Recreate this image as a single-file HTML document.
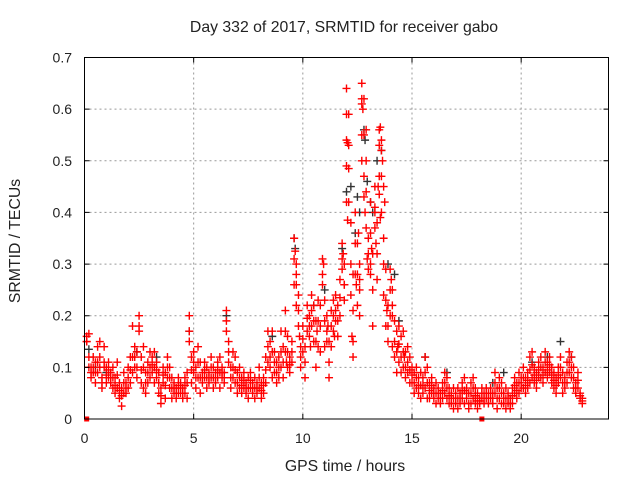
<!DOCTYPE html>
<html><head><meta charset="utf-8"><style>
body{margin:0;background:#fff}
svg{display:block;font-family:"Liberation Sans",sans-serif}
</style></head><body>
<svg id="chart" width="640" height="480" viewBox="0 0 640 480">
<rect width="640" height="480" fill="#fff"/>
<g id="grid"></g>
<g id="pts-black"></g>
<g id="pts-red"></g>
<rect x="84.5" y="57.5" width="524" height="361.5" fill="none" stroke="#000" stroke-width="1"/>
<g id="ticks" font-size="14" fill="#222"></g>
<text x="344" y="32" text-anchor="middle" font-size="15.8" fill="#222">Day 332 of 2017, SRMTID for receiver gabo</text>
<text x="345" y="471" text-anchor="middle" font-size="15.8" fill="#222">GPS time / hours</text>
<text transform="translate(20,241) rotate(-90)" text-anchor="middle" font-size="15.8" fill="#222">SRMTID / TECUs</text>
</svg>
<script>
const xTicks=[0,5,10,15,20];
const yTicks=[0,0.1,0.2,0.3,0.4,0.5,0.6,0.7];
const yTickLabels=["0","0.1","0.2","0.3","0.4","0.5","0.6","0.7"];
const redT=[0.1,0.2,0.3,0.4,0.5,0.6,0.7,0.8,0.9,1.0,1.1,1.2,1.3,1.4,1.5,1.6,1.7,1.8,1.9,2.0,2.1,2.2,2.3,2.4,2.5,2.6,2.7,2.8,2.9,3.0,3.1,3.2,3.3,3.4,3.5,3.6,3.7,3.8,3.9,4.0,4.1,4.2,4.3,4.4,4.5,4.6,4.7,4.8,4.9,5.0,5.1,5.2,5.3,5.4,5.5,5.6,5.7,5.8,5.9,6.0,6.1,6.2,6.3,6.4,6.5,6.6,6.7,6.8,6.9,7.0,7.1,7.2,7.3,7.4,7.5,7.6,7.7,7.8,7.9,8.0,8.1,8.2,8.3,8.4,8.5,8.6,8.7,8.8,8.9,9.0,9.1,9.2,9.3,9.4,9.5,9.6,9.7,9.8,9.9,10.0,10.1,10.2,10.3,10.4,10.5,10.6,10.7,10.8,10.9,11.0,11.1,11.2,11.3,11.4,11.5,11.6,11.7,11.8,11.9,12.0,12.1,12.2,12.3,12.4,12.5,12.6,12.7,12.8,12.9,13.0,13.1,13.2,13.3,13.4,13.5,13.6,13.7,13.8,13.9,14.0,14.1,14.2,14.3,14.4,14.5,14.6,14.7,14.8,14.9,15.0,15.1,15.2,15.3,15.4,15.5,15.6,15.7,15.8,15.9,16.0,16.1,16.2,16.3,16.4,16.5,16.6,16.7,16.8,16.9,17.0,17.1,17.2,17.3,17.4,17.5,17.6,17.7,17.8,17.9,18.0,18.1,18.2,18.3,18.4,18.5,18.6,18.7,18.8,18.9,19.0,19.1,19.2,19.3,19.4,19.5,19.6,19.7,19.8,19.9,20.0,20.1,20.2,20.3,20.4,20.5,20.6,20.7,20.8,20.9,21.0,21.1,21.2,21.3,21.4,21.5,21.6,21.7,21.8,21.9,22.0,22.1,22.2,22.3,22.4,22.5,22.6,22.7,22.8];
const redHi=[.16,.165,.10,.12,.11,.14,.15,.08,.14,.10,.11,.09,.10,.08,.11,.07,.06,.09,.07,.10,.12,.18,.14,.13,.20,.12,.14,.09,.11,.13,.12,.13,.11,.09,.06,.10,.09,.12,.10,.08,.07,.06,.08,.07,.06,.08,.09,.20,.12,.13,.10,.14,.11,.09,.11,.10,.09,.12,.10,.09,.11,.12,.10,.09,.21,.15,.10,.13,.12,.09,.10,.08,.09,.07,.08,.09,.07,.08,.07,.10,.07,.08,.12,.17,.15,.17,.13,.11,.12,.17,.14,.21,.16,.12,.15,.35,.30,.24,.14,.18,.14,.22,.20,.24,.22,.19,.23,.22,.31,.23,.20,.15,.21,.23,.24,.22,.27,.34,.30,.64,.59,.38,.28,.40,.34,.30,.65,.62,.56,.35,.42,.32,.45,.38,.56,.54,.35,.29,.22,.29,.25,.19,.17,.18,.16,.17,.13,.14,.12,.10,.09,.10,.08,.09,.08,.12,.10,.07,.08,.06,.07,.06,.05,.07,.09,.08,.06,.05,.06,.05,.06,.05,.07,.08,.06,.05,.07,.08,.06,.05,.04,.06,.05,.06,.05,.06,.05,.09,.06,.08,.07,.05,.06,.05,.04,.06,.08,.07,.09,.08,.10,.08,.09,.12,.13,.10,.09,.11,.12,.10,.13,.11,.12,.10,.09,.08,.10,.12,.09,.08,.11,.13,.12,.10,.07,.09,.05,.04];
const redMid=[.15,.12,.09,.10,.09,.11,.12,.07,.11,.085,.095,.08,.08,.065,.085,.055,.045,.07,.06,.08,.095,.12,.12,.10,.18,.095,.10,.07,.09,.10,.105,.10,.095,.07,.045,.085,.065,.10,.08,.06,.06,.05,.065,.06,.05,.065,.07,.17,.095,.11,.08,.11,.08,.08,.095,.08,.08,.10,.08,.08,.095,.09,.09,.08,.19,.13,.08,.10,.095,.07,.08,.065,.075,.06,.06,.075,.06,.06,.06,.08,.055,.065,.095,.14,.12,.13,.11,.09,.10,.13,.11,.17,.13,.105,.13,.31,.26,.21,.12,.155,.11,.195,.18,.21,.19,.15,.19,.18,.28,.19,.17,.11,.18,.20,.21,.19,.235,.31,.26,.54,.53,.30,.21,.34,.28,.27,.61,.55,.50,.32,.36,.25,.41,.32,.53,.47,.30,.23,.18,.25,.20,.15,.13,.145,.12,.13,.10,.11,.095,.085,.07,.08,.065,.065,.065,.09,.07,.055,.065,.05,.05,.05,.04,.055,.07,.06,.045,.04,.04,.04,.04,.04,.055,.055,.05,.03,.05,.06,.045,.035,.035,.05,.04,.05,.04,.05,.04,.07,.04,.06,.05,.04,.04,.04,.03,.045,.065,.055,.07,.07,.08,.065,.075,.095,.105,.085,.075,.095,.10,.085,.11,.095,.105,.085,.075,.065,.085,.10,.07,.07,.09,.11,.10,.08,.06,.075,.045,.035];
const redLo=[.15,.10,.08,.09,.07,.09,.10,.06,.10,.07,.08,.07,.06,.05,.06,.04,.025,.05,.05,.06,.07,.09,.10,.08,.17,.07,.06,.05,.07,.08,.09,.07,.08,.05,.03,.07,.04,.08,.06,.04,.05,.04,.05,.05,.04,.05,.04,.15,.07,.09,.06,.08,.05,.07,.08,.06,.07,.08,.06,.07,.08,.06,.08,.07,.17,.11,.06,.08,.07,.05,.06,.05,.06,.05,.04,.06,.05,.04,.05,.06,.04,.05,.07,.11,.10,.08,.09,.07,.08,.10,.08,.13,.10,.09,.11,.26,.22,.18,.10,.13,.08,.17,.16,.18,.15,.10,.14,.13,.26,.14,.15,.08,.14,.17,.19,.16,.20,.29,.23,.49,.42,.24,.15,.28,.22,.25,.55,.47,.44,.29,.30,.18,.37,.27,.47,.40,.24,.18,.15,.20,.14,.12,.09,.11,.09,.10,.08,.09,.07,.07,.05,.06,.05,.04,.05,.06,.04,.04,.05,.04,.03,.04,.03,.04,.05,.04,.03,.03,.02,.03,.02,.03,.04,.03,.04,.02,.03,.04,.03,.02,.03,.04,.03,.04,.03,.04,.03,.05,.02,.04,.03,.03,.02,.03,.02,.03,.05,.04,.05,.06,.06,.05,.06,.07,.08,.07,.06,.08,.08,.07,.09,.08,.09,.07,.06,.05,.07,.08,.05,.06,.07,.09,.08,.06,.05,.06,.04,.03];
const extraT=[12.0,12.05,12.0,12.1,12.05,12.7,12.75,12.7,12.8,12.85,13.55,13.6,13.5,13.45,13.65,13.55,13.3,13.35,12.9,12.95,12.55,12.45,11.85,11.9,9.65,9.7,10.95,13.7,13.75,12.25,12.3,14.05,14.1,12.6,13.1,10.35,10.65,11.15,11.45,9.25,9.85,14.35,14.65,13.85,13.15];
const extraV=[.59,.535,.42,.485,.385,.62,.60,.50,.43,.40,.565,.52,.435,.45,.50,.39,.40,.34,.37,.31,.36,.26,.32,.26,.325,.28,.30,.45,.42,.16,.12,.27,.22,.20,.28,.14,.17,.18,.16,.11,.16,.14,.12,.21,.33];
const blackT=[0.2,0.5,1.0,2.4,3.3,4.8,6.5,8.6,9.6,9.65,10.5,11.0,11.8,12.0,12.2,12.4,12.5,12.6,12.8,12.85,12.95,13.1,13.2,13.4,13.6,13.9,14.2,14.4,15.6,16.6,18.7,19.2,20.5,21.2,21.8,22.3];
const blackV=[.135,.10,.09,.13,.12,.17,.20,.16,.35,.33,.22,.25,.33,.44,.45,.36,.43,.40,.56,.54,.46,.42,.40,.50,.52,.30,.28,.19,.12,.09,.07,.09,.11,.12,.15,.12];
const markersT=[0.1,18.2];
const markersV=[0,0];

const X0=84.5,X1=608.5,Y0=419,Y1=57.5,XMAX=24,YMAX=0.7;
const sx=t=>X0+(X1-X0)*t/XMAX;
const sy=v=>Y0-(Y0-Y1)*v/YMAX;
const NS="http://www.w3.org/2000/svg";
const grid=document.getElementById('grid'),ticks=document.getElementById('ticks');
function mk(tag,attrs,parent){const e=document.createElementNS(NS,tag);for(const k in attrs)e.setAttribute(k,attrs[k]);parent.appendChild(e);return e;}
xTicks.forEach(t=>{
  const x=sx(t);
  if(t>0){const g=mk('line',{x1:x,x2:x,y1:Y1,y2:Y0,stroke:'#999','stroke-dasharray':'2,3'},grid);
  
  }
  const tk=mk('path',{d:`M${x},${Y0}v-5M${x},${Y1}v5`,stroke:'#000'},ticks);
  
  
  const l=mk('text',{x:x,y:443,'text-anchor':'middle'},ticks);l.textContent=String(t);
  
  
});
yTicks.forEach((v,i)=>{
  const y=sy(v);
  if(v>0&&v<0.7){const g=mk('line',{x1:X0,x2:X1,y1:y,y2:y,stroke:'#999','stroke-dasharray':'2,3'},grid);
  
  }
  const tk=mk('path',{d:`M${X0},${y}h5M${X1},${y}h-5`,stroke:'#000'},ticks);
  
  
  const l=mk('text',{x:72,y:y+5,'text-anchor':'end'},ticks);l.textContent=yTickLabels[i];
  
  
});
function plus(t,v,col,parent){
  const x=sx(t),y=sy(v);
  const p=mk('path',{d:`M${x-4},${y}h8M${x},${y-4}v8`,stroke:col,'stroke-width':1.4,fill:'none'},parent);
  
  
}
const gb=document.getElementById('pts-black'),gr=document.getElementById('pts-red');
blackT.forEach((t,i)=>plus(t,blackV[i],'#333',gb));
redT.forEach((t,i)=>{plus(t,redHi[i],'#f00',gr);plus(t,redMid[i],'#f00',gr);plus(t,redLo[i],'#f00',gr);});
extraT.forEach((t,i)=>plus(t,extraV[i],'#f00',gr));
markersT.forEach((t,i)=>{
  const r=mk('rect',{x:sx(t)-2.5,y:sy(markersV[i])-2.5,width:5,height:5,fill:'#f00'},gr);
  
  
});
</script>
</body></html>
